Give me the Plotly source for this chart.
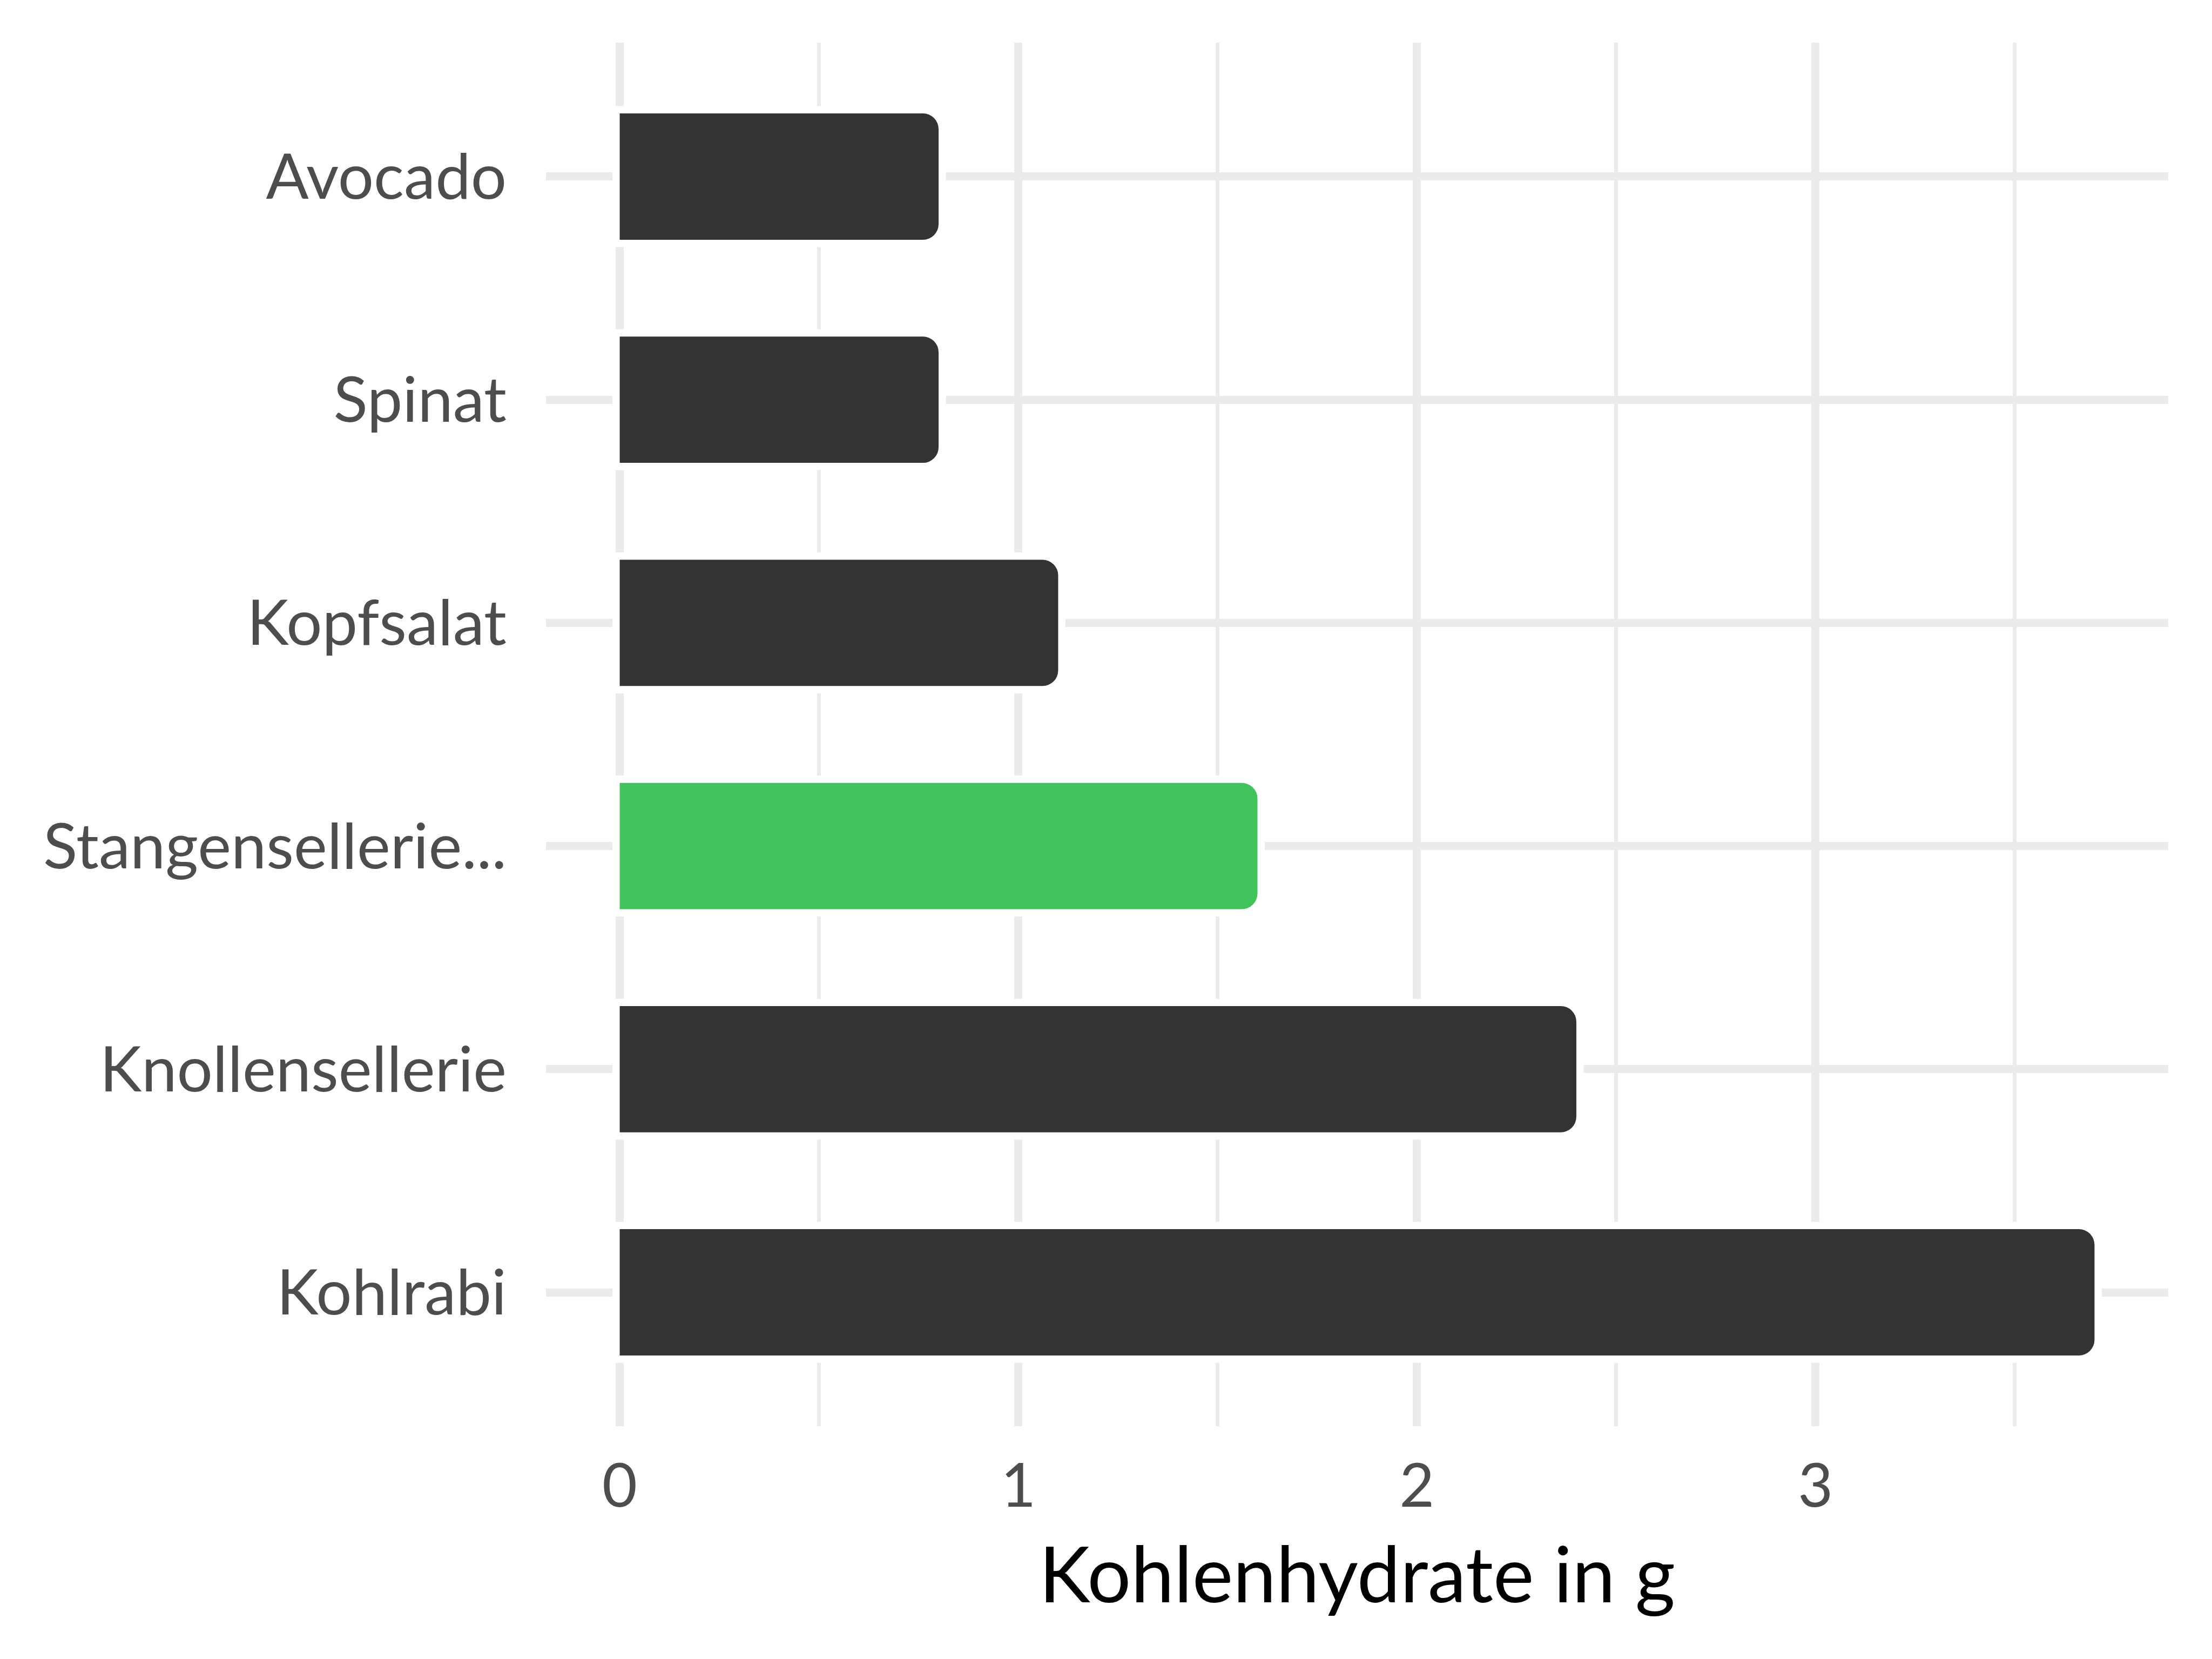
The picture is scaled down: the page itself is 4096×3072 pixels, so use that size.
import plotly.graph_objects as go

categories = ["Kohlrabi", "Knollensellerie", "Stangensellerie...", "Kopfsalat", "Spinat", "Avocado"]
values = [3.7, 2.4, 1.6, 1.1, 0.8, 0.8]
bar_colors = ["#333333", "#333333", "#40C35A", "#333333", "#333333", "#333333"]
x_ticks = [0, 1, 2, 3]
x_title = "Kohlenhydrate in g"

fig = go.Figure()
# white halo behind the bars (gap between bars and grid lines)
fig.add_trace(go.Bar(
    x=values, y=categories, orientation="h",
    width=0.566,
    marker=dict(color="white", line=dict(color="white", width=27), cornerradius=29),
    hoverinfo="skip",
))
fig.add_trace(go.Bar(
    x=values, y=categories, orientation="h",
    width=0.566,
    marker=dict(color=bar_colors, line=dict(width=0), cornerradius=29),
    hoverinfo="skip",
))

grid = "#EBEBEB"
fig.update_layout(
    width=4096, height=3072,
    margin=dict(l=1003, r=89, t=71, b=439),
    barmode="overlay",
    plot_bgcolor="white", paper_bgcolor="white",
    showlegend=False,
    font=dict(family="Lato", color="#4D4D4D", size=117),
    xaxis=dict(
        range=[-0.185, 3.885], tickvals=x_ticks, ticktext=[str(v) for v in x_ticks],
        showgrid=True, gridcolor=grid, gridwidth=14.5, zeroline=False,
        showline=False, ticks="", ticklabelstandoff=36,
        minor=dict(dtick=0.5, tick0=0, showgrid=True, gridcolor=grid, gridwidth=7),
        title=dict(text=x_title, font=dict(size=143, color="black"), standoff=53),
        tickfont=dict(size=112, color="#4D4D4D"),
    ),
    yaxis=dict(
        type="category", categoryorder="array", categoryarray=categories,
        range=[-0.6, 5.6],
        showgrid=True, gridcolor=grid, gridwidth=14.5, zeroline=False,
        showline=False, ticks="", ticklabelstandoff=72,
        tickfont=dict(size=117, color="#4D4D4D"),
    ),
)

fig.write_html("out.html")
